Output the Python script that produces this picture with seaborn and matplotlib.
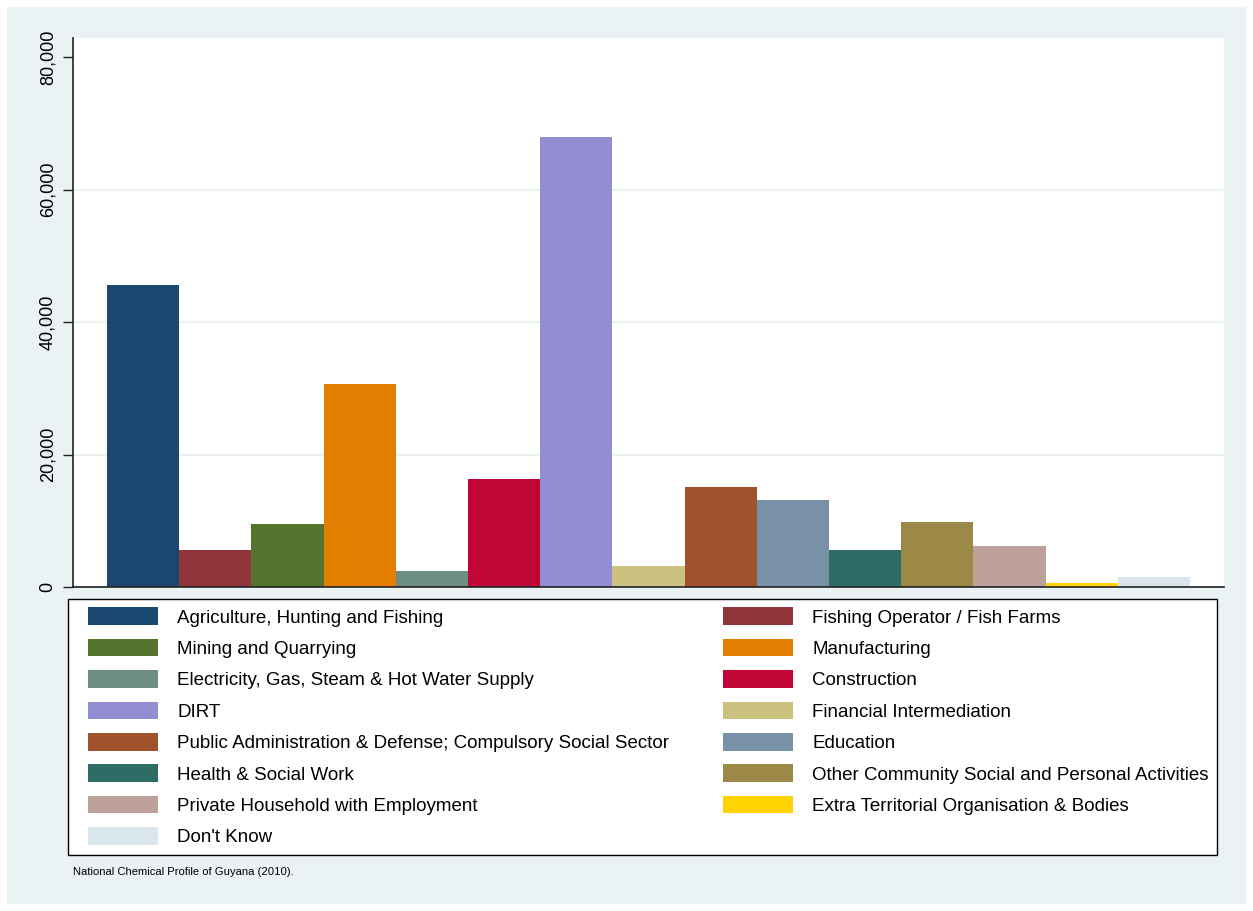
import matplotlib
matplotlib.use('Agg')
import matplotlib.pyplot as plt
from matplotlib.patches import Patch, Rectangle
from matplotlib.ticker import FuncFormatter
import pandas as pd
import seaborn as sns

sectors = ['Agriculture, Hunting and Fishing', 'Fishing Operator / Fish Farms',
           'Mining and Quarrying', 'Manufacturing',
           'Electricity, Gas, Steam & Hot Water Supply', 'Construction',
           'DIRT', 'Financial Intermediation',
           'Public Administration & Defense; Compulsory Social Sector', 'Education',
           'Health & Social Work', 'Other Community Social and Personal Activities',
           'Private Household with Employment', 'Extra Territorial Organisation & Bodies',
           "Don't Know"]
employed = [45600, 5600, 9550, 30650, 2350, 16250, 67950, 3150,
            15100, 13100, 5550, 9750, 6250, 550, 1550]
colors = ['#1A476F', '#90353B', '#55752F', '#E37E00', '#6E8E84', '#C10534',
          '#938DD2', '#CAC27E', '#A0522D', '#7890A8', '#2D6D66', '#9C8847',
          '#BFA19C', '#FFD200', '#D9E6EB']
source = 'National Chemical Profile of Guyana (2010).'

sns.set_theme(style="white")
plt.rcParams['font.family'] = ['Liberation Sans', 'DejaVu Sans']

df = pd.DataFrame({'sector': sectors, 'employed': employed})

W, H = 1253, 911
fig = plt.figure(figsize=(W / 100, H / 100), dpi=100, facecolor='white')
fig.patches.append(Rectangle((7 / W, 7 / H), 1239 / W, 897 / H, transform=fig.transFigure,
                             facecolor='#EAF2F3', edgecolor='none', zorder=-10))

ax = fig.add_axes([73 / W, 1 - 587 / H, (1224 - 73) / W, (587 - 38) / H])
ax.set_zorder(1)
sns.barplot(data=df, x='sector', y='employed', hue='sector', order=sectors,
            hue_order=sectors, palette=colors, width=1.0, saturation=1,
            linewidth=0, legend=False, ax=ax)

ax.set_xlim(-0.97, len(sectors) - 0.03)
ax.set_ylim(0, 82900)
ax.set_yticks(range(0, 80001, 20000))
ax.yaxis.set_major_formatter(FuncFormatter(lambda v, p: f'{v:,.0f}'))
ax.set_xticks([])
ax.set_xlabel('')
ax.set_ylabel('')
ax.tick_params(axis='y', left=True, length=7, width=1, color='#222222', pad=5,
               labelsize=13, labelrotation=90, labelcolor='black')
for lab in ax.get_yticklabels():
    lab.set_va('center')

ax.grid(axis='y', color='#EAF2F3', linewidth=1.5)
ax.yaxis.get_gridlines()[-1].set_visible(False)
ax.set_axisbelow(True)
for s in ['top', 'right']:
    ax.spines[s].set_visible(False)
for s in ['left', 'bottom']:
    ax.spines[s].set_color('#222222')
    ax.spines[s].set_linewidth(1.2)

# legend box drawn separately so the inner padding can differ left/top
fig.patches.append(Rectangle((68 / W, 1 - 855 / H), 1149 / W, 256 / H,
                             transform=fig.transFigure, facecolor='white',
                             edgecolor='black', linewidth=1.0, zorder=2))

# legend filled row-wise, two columns
order = list(range(0, len(sectors), 2)) + list(range(1, len(sectors), 2))
handles = [Patch(facecolor=colors[i], edgecolor='none') for i in order]
labels = [sectors[i] for i in order]
leg = fig.legend(handles, labels, loc='upper left',
                 bbox_to_anchor=(80 / W, 56 / H, 1137 / W, 256 / H),
                 mode='expand', ncol=2, fontsize=13.5, frameon=False,
                 labelcolor='black', handlelength=3.73, handleheight=1.07,
                 labelspacing=0.65, handletextpad=1.0, borderpad=0.45,
                 borderaxespad=0)
leg.set_zorder(3)

fig.text(73 / W, 1 - 872 / H, source, fontsize=8.1, va='center', color='black')

fig.savefig('out.png', dpi=100)
